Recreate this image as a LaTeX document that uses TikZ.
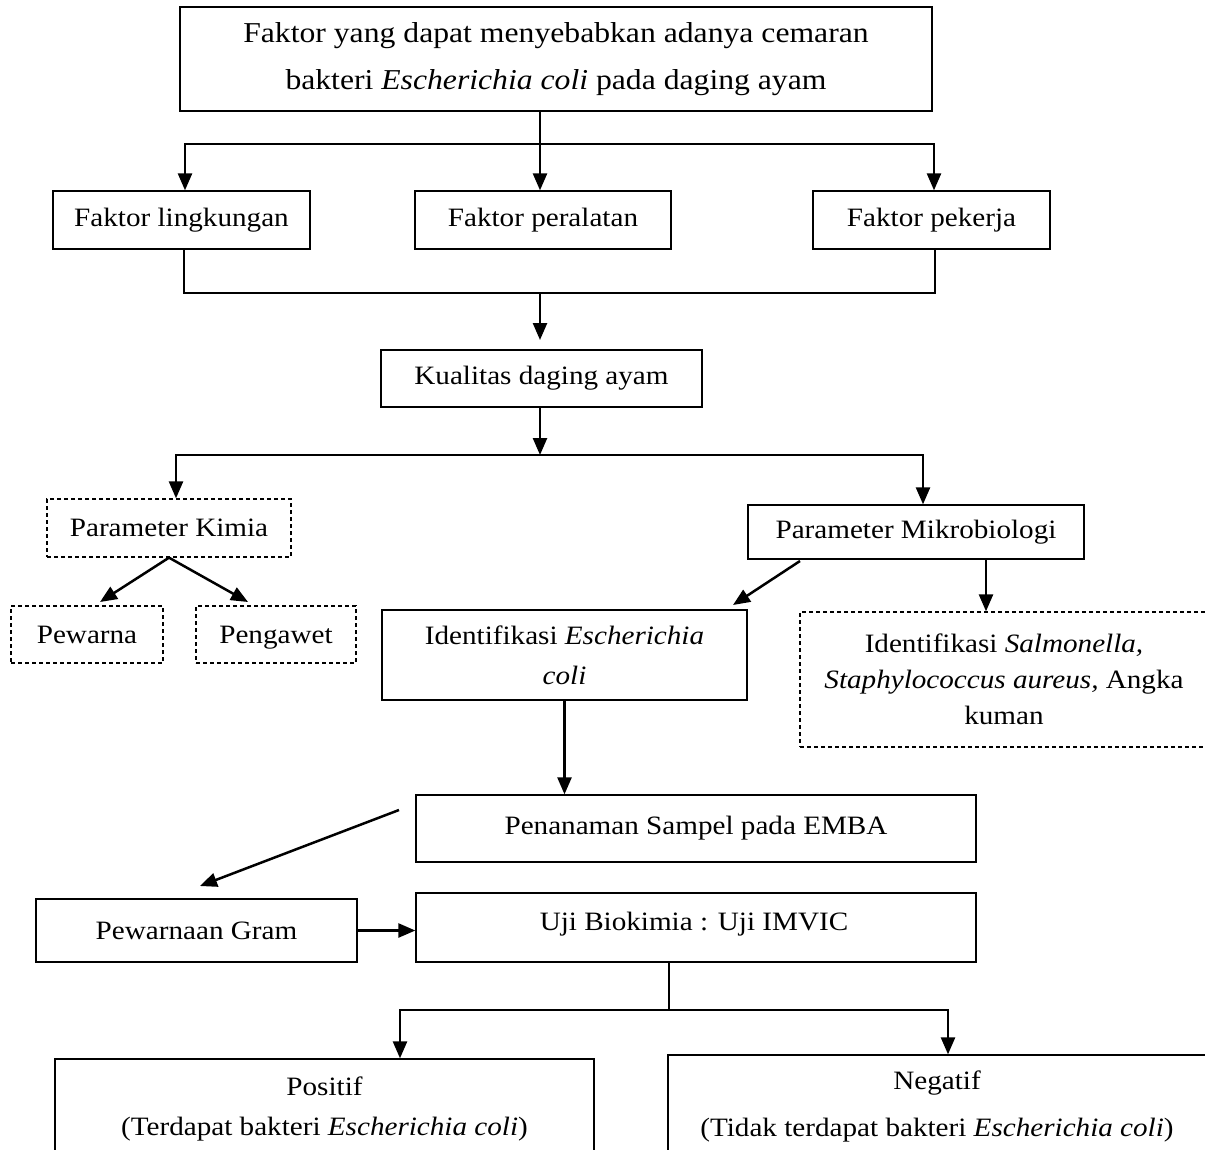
\documentclass[tikz,border=0pt]{standalone}
\usepackage{fontspec}
\setmainfont{Liberation Serif}[FakeStretch=1.1]
\usetikzlibrary{arrows.meta}
\begin{document}
\begin{tikzpicture}[x=1pt,y=-1pt,
  box/.style={draw, line width=1.3pt, inner sep=0pt, align=center,
    font=\fontsize{26.5}{40}\selectfont},
  dbox/.style={box, dash pattern=on 4pt off 3pt},
  lbl/.style={inner sep=0pt, align=center, font=\fontsize{26.5}{40}\selectfont},
  conn/.style={line width=2.5pt},
  arr/.style={conn, -{Triangle[length=17pt,width=14pt]}}]
\useasboundingbox (0,0) rectangle (1205,1149);
\clip (0,0) rectangle (1205,1149);

% boxes
\node[box, minimum width=752pt, minimum height=104pt, font=\fontsize{28.8}{47}\selectfont] (top) at (556,59)
  {Faktor yang dapat menyebabkan adanya cemaran\\bakteri \textit{Escherichia coli} pada daging ayam};
\node[box, minimum width=257pt, minimum height=58pt] (ling) at (181.5,220) {Faktor lingkungan};
\node[box, minimum width=256pt, minimum height=58pt] (peral) at (543,220) {Faktor peralatan};
\node[box, minimum width=237pt, minimum height=58pt] (peker) at (931.5,220) {Faktor pekerja};
\node[box, minimum width=321pt, minimum height=57pt] (kual) at (541.5,378.5) {Kualitas daging ayam};
\node[dbox, minimum width=244pt, minimum height=58pt] (kimia) at (169,528) {Parameter Kimia};
\node[box, minimum width=336pt, minimum height=54pt] (mikro) at (916,532) {Parameter Mikrobiologi};
\node[dbox, minimum width=152pt, minimum height=57pt] (pewarna) at (87,634.5) {Pewarna};
\node[dbox, minimum width=160pt, minimum height=57pt, text depth=0pt] (pengawet) at (276,634.5) {Pengawet};
\node[box, minimum width=365pt, minimum height=90pt] (ident) at (564.5,655)
  {Identifikasi \textit{Escherichia}\\\textit{coli}};
\node[dbox, minimum width=408pt, minimum height=135pt, font=\fontsize{26.5}{36}\selectfont] (salm) at (1004,679.5)
  {Identifikasi \textit{Salmonella,}\\\textit{Staphylococcus aureus,} Angka\\kuman};
\node[box, minimum width=560pt, minimum height=67pt] (emba) at (696,828.5) {Penanaman Sampel pada EMBA};
\node[box, minimum width=321pt, minimum height=63pt] (gram) at (196.5,930.5) {Pewarnaan Gram};
\node[box, minimum width=560pt, minimum height=69pt] (uji) at (696,927.5) {};
\node[lbl] (ujitxt) at (694,924) {Uji Biokimia : Uji IMVIC};
\node[box, minimum width=539pt, minimum height=100pt] (pos) at (324.5,1109)
  {Positif\\(Terdapat bakteri \textit{Escherichia coli})};
\node[box, minimum width=538pt, minimum height=102pt, font=\fontsize{26.5}{47}\selectfont] (neg) at (937,1106)
  {Negatif\\(Tidak terdapat bakteri \textit{Escherichia coli})};

% junctions
\coordinate (j1) at (540,144);
\coordinate (j1L) at (185,144);
\coordinate (j1R) at (934,144);
\coordinate (j2) at (540,293);
\coordinate (j2L) at (184,293);
\coordinate (j2R) at (935,293);
\coordinate (kin) at (540,340);
\coordinate (j3) at (540,455);
\coordinate (j3L) at (176,455);
\coordinate (j3R) at (923,455);
\coordinate (pwin) at (100,602);
\coordinate (pgin) at (248,602);
\coordinate (mkout) at (800,561);
\coordinate (idin) at (733,605);
\coordinate (smout) at (986,559);
\coordinate (emout) at (399,810);
\coordinate (grin) at (200,886);
\coordinate (j4) at (669,1010);
\coordinate (j4L) at (400,1010);
\coordinate (j4R) at (948,1010);

% connectors
\draw[conn] (top.south -| j1) -- (j1);
\draw[arr] (j1) -| (j1L |- ling.north);
\draw[arr] (j1) -| (j1R |- peker.north);
\draw[arr] (j1) -- (j1 |- peral.north);

\draw[conn] (j2L |- ling.south) -- (j2L) -- (j2R) -- (j2R |- peker.south);
\draw[arr] (j2) -- (kin);

\draw[arr] (kual.south -| j3) -- (j3);
\draw[arr] (j3) -| (j3L |- kimia.north);
\draw[arr] (j3) -| (j3R |- mikro.north);

\draw[arr] (kimia.south) -- (pwin);
\draw[arr] (kimia.south) -- (pgin);

\draw[arr] (mkout) -- (idin);
\draw[arr] (smout) -- (smout |- salm.north);

\draw[arr] (ident.south) -- (ident.south |- emba.north);
\draw[arr] (emout) -- (grin);
\draw[arr] (gram.east) -- (gram.east -| uji.west);

\draw[conn] (uji.south -| j4) -- (j4);
\draw[arr] (j4) -| (j4L |- pos.north);
\draw[arr] (j4) -| (j4R |- neg.north);
\end{tikzpicture}
\end{document}
